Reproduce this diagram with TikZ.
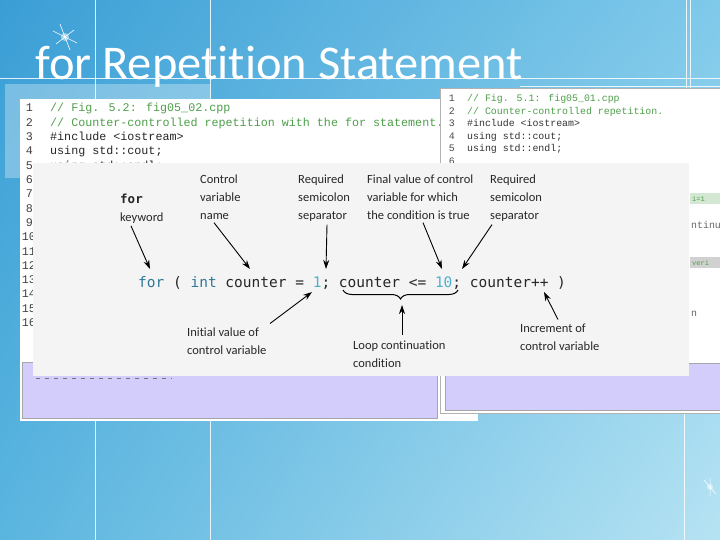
\documentclass[tikz,border=0pt]{standalone}
\usepackage{fontspec}
\setmainfont{Carlito}[Ligatures=CommonOff]
\newfontfamily\listfont{Liberation Mono}
\newfontfamily\codefont{DejaVu Sans Mono}
\usetikzlibrary{arrows.meta, positioning, calc, decorations.pathreplacing, shadings}
\definecolor{bgUL}{HTML}{3A9ED5}
\definecolor{bgUR}{HTML}{7FC9EA}
\definecolor{bgLL}{HTML}{5AB5DF}
\definecolor{bgLR}{HTML}{B6E3F3}
\definecolor{lavender}{HTML}{D2CDFA}
\definecolor{figgray}{HTML}{F4F4F4}
\definecolor{cmtgreen}{HTML}{4E9F4A}
\definecolor{kwblue}{HTML}{2F7898}
\definecolor{numblue}{HTML}{4DB0D0}

\begin{document}
\begin{tikzpicture}[
  x=1pt, y=-1pt,
  >={Stealth[length=9pt,width=6pt]},
  title/.style={font=\fontsize{48.5}{52}\selectfont, text=white, anchor=base west,
                inner sep=0pt},
  lnum/.style={font=\listfont\fontsize{11.7}{12}\selectfont, text=black!75,
               anchor=base east, inner sep=0pt},
  lcode/.style={font=\listfont\fontsize{11.7}{12}\selectfont, text=black!85,
                anchor=base west, inner sep=0pt},
  rnum/.style={font=\listfont\fontsize{9.9}{10}\selectfont, text=black!70,
               anchor=base east, inner sep=0pt},
  rcode/.style={font=\listfont\fontsize{9.9}{10}\selectfont, text=black!80,
                anchor=base west, inner sep=0pt},
  cmt/.style={text=cmtgreen},
  lbl/.style={font=\fontsize{12.5}{18}\selectfont, text=black!85, align=left,
              anchor=north west, inner sep=0pt},
  loopcode/.style={font=\codefont\fontsize{14.5}{16}\selectfont, text=black!85,
                   anchor=base west, inner sep=0pt},
  arr/.style={->, line width=0.9pt, black},
  gridline/.style={white, line width=0.8pt, opacity=0.85}
]
\useasboundingbox (0,0) rectangle (720,540);
\shade[upper left=bgUL, upper right=bgUR, lower left=bgLL, lower right=bgLR]
  (0,0) rectangle (720,540);

\draw[gridline] (0,78) -- (720,78);
\draw[gridline] (520,86) -- (720,86);
\draw[gridline] (95,0) -- (95,540);
\draw[gridline] (210,0) -- (210,540);
\draw[gridline] (686,0) -- (686,88);
\draw[gridline] (690,0) -- (690,88);
\draw[gridline] (684,413) -- (684,540);
\fill[white, opacity=0.3] (5,84) rectangle (210,178);

\fill[white, opacity=0.5] (65,37) circle (4);
\draw[white, line width=0.6pt] (53,31) -- (77,43) (60,24) -- (70,50) (56,44) -- (74,30);
\fill[white, opacity=0.5] (710,487) circle (3);
\draw[white, line width=0.5pt] (704,480) -- (716,494) (710,478) -- (710,496);

\node[title] (ttl) at (35,80) {for Repetition Statement};

% left listing
\fill[white] (20,99) rectangle (478,421);
\filldraw[fill=lavender, draw=black!35] (22,362) rectangle (437,418);
\draw[black!55, line width=0.9pt, dash pattern=on 4pt off 5pt] (36,378) -- (172,378);
\node[lnum] (ln1) at (33,112) {1};
\node[lnum] (ln2) at (33,126.3) {2};
\node[lnum] (ln3) at (33,140.6) {3};
\node[lnum] (ln4) at (33,154.9) {4};
\node[lnum] (ln5) at (33,169.2) {5};
\node[lnum] (ln6) at (33,183.5) {6};
\node[lnum] (ln7) at (33,197.8) {7};
\node[lnum] (ln8) at (33,212.1) {8};
\node[lnum] (ln9) at (33,226.4) {9};
\node[lnum] (ln10) at (36,240.7) {10};
\node[lnum] (ln11) at (36,255) {11};
\node[lnum] (ln12) at (36,269.3) {12};
\node[lnum] (ln13) at (36,283.6) {13};
\node[lnum] (ln14) at (36,297.9) {14};
\node[lnum] (ln15) at (36,312.2) {15};
\node[lnum] (ln16) at (36,326.5) {16};
\node[lcode, cmt] (lc1) at (50,112) {// Fig. 5.2: fig05\_02.cpp};
\node[lcode, cmt] (lc2) at (50,126.3) {// Counter-controlled repetition with the for statement.};
\node[lcode] (lc3) at (50,140.6) {\#include <iostream>};
\node[lcode] (lc4) at (50,154.9) {using std::cout;};
\node[lcode] (lc5) at (50,169.2) {using std::endl;};

% right listing
\filldraw[fill=white, draw=black!30] (440,88) rectangle (722,413);
\filldraw[fill=lavender, draw=black!35] (445,363) rectangle (722,410);
\node[rnum] (rn1) at (455,101.5) {1};
\node[rnum] (rn2) at (455,114.1) {2};
\node[rnum] (rn3) at (455,126.7) {3};
\node[rnum] (rn4) at (455,139.3) {4};
\node[rnum] (rn5) at (455,151.9) {5};
\node[rnum] (rn6) at (455,164.5) {6};
\node[rcode, cmt] (rc1) at (467,101.5) {// Fig. 5.1: fig05\_01.cpp};
\node[rcode, cmt] (rc2) at (467,114.1) {// Counter-controlled repetition.};
\node[rcode] (rc3) at (467,126.7) {\#include <iostream>};
\node[rcode] (rc4) at (467,139.3) {using std::cout;};
\node[rcode] (rc5) at (467,151.9) {using std::endl;};
\fill[cmtgreen!25] (690,193) rectangle (720,204);
\node[rcode, cmt, font=\listfont\fontsize{7}{8}\selectfont] (rf1) at (692,201.5) {i=1};
\node[rcode, text=black!60] (rf2) at (691,229) {ntinu};
\fill[black!18] (690,257) rectangle (720,268);
\node[rcode, cmt, font=\listfont\fontsize{7}{8}\selectfont] (rf3) at (692,265.5) {veri};
\node[rcode, text=black!60] (rf4) at (691,316) {n};

% annotated for header
\fill[figgray] (33,163) rectangle (689,376);

\node[lbl] (lKey) at (120,194) {{\codefont\bfseries for}\\keyword};
\node[lbl] (lName) at (200,174.5) {Control\\variable\\name};
\node[lbl] (lSemiA) at (298,174.5) {Required\\semicolon\\separator};
\node[lbl] (lFinal) at (367,174.5) {Final value of control\\variable for which\\the condition is true};
\node[lbl] (lSemiB) at (490,174.5) {Required\\semicolon\\separator};

\node[loopcode] (loop) at (138,287)
  {\textcolor{kwblue}{for} ( \textcolor{kwblue}{int} counter = \textcolor{numblue}{1}; counter <= \textcolor{numblue}{10}; counter++ )};

\node[lbl] (lInit) at (187,327.5) {Initial value of\\control variable};
\node[lbl] (lLoop) at (353,340.5) {Loop continuation\\condition};
\node[lbl] (lIncr) at (520,323.5) {Increment of\\control variable};

\coordinate (hFor) at (150,269);
\coordinate (hCtr) at (250,269);
\coordinate (hSemiA) at (326,269);
\coordinate (hTen) at (442,269);
\coordinate (hSemiB) at (462,269);
\coordinate (hOne) at (312,292);
\coordinate (hLoop) at (402,305);
\coordinate (hIncr) at (544,292);

\draw[decorate, decoration={brace, amplitude=9pt}, line width=1pt]
  (458,290) -- (343,290);

\draw[arr] ([xshift=11pt,yshift=-2pt]lKey.south west) -- (hFor);
\draw[arr] ([xshift=14pt,yshift=-3pt]lName.south west) -- (hCtr);
\draw[arr] ([xshift=29pt,yshift=-3pt]lSemiA.south west) -- (hSemiA);
\draw[arr] ([xshift=56pt,yshift=-3pt]lFinal.south west) -- (hTen);
\draw[arr] ([xshift=2pt,yshift=-3pt]lSemiB.south west) -- (hSemiB);
\draw[arr] ([xshift=83pt,yshift=4pt]lInit.north west) -- (hOne);
\draw[arr] ([xshift=49pt,yshift=6pt]lLoop.north west) -- (hLoop);
\draw[arr] ([xshift=38pt,yshift=4pt]lIncr.north west) -- (hIncr);

\end{tikzpicture}
\end{document}
